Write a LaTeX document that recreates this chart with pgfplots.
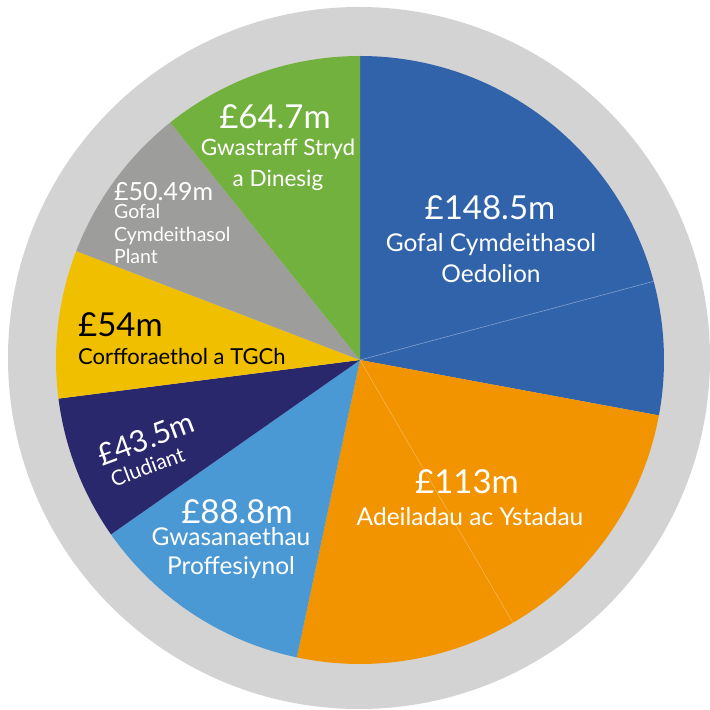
\documentclass[border=0pt]{standalone}
\usepackage{pgfplots}
\pgfplotsset{compat=1.18}
\usepackage{pgfplotstable}
\usepackage{fontspec}
\setmainfont{Lato}
\definecolor{cRing}{RGB}{211,211,211}
\definecolor{cBlue}{RGB}{49,99,171}
\definecolor{cOrange}{RGB}{242,147,0}
\definecolor{cLBlue}{RGB}{74,152,212}
\definecolor{cNavy}{RGB}{42,40,108}
\definecolor{cYellow}{RGB}{240,192,0}
\definecolor{cGrey}{RGB}{157,157,156}
\definecolor{cGreen}{RGB}{115,177,62}
% slice boundaries (degrees, clockwise from top) as drawn in the reference
% value: budget (GBP m)
\pgfplotstableread{
name value start end
Oedolion 148.5 90 -10.5
Ystadau 113 -10.5 -102
Proffesiynol 88.8 -102 -145
Cludiant 43.5 -145 -172.7
TGCh 54 -172.7 -201
Plant 50.49 -201 -231.4
Gwastraff 64.7 -231.4 -270
}\slices
\newcommand\fs[1]{\fontsize{#1}{#1}\selectfont}
\begin{document}
\begin{tikzpicture}
\begin{axis}[
  x=1pt, y=1pt,
  xmin=0, xmax=706, ymin=-710, ymax=0,
  hide axis, clip=false,
]
\path (axis cs:0,0) rectangle (axis cs:706,-710);
\fill[cRing] (axis cs:359,-358) circle[radius=351pt];
\fill[cBlue]   (axis cs:360,-360) -- ++(90:304pt)     arc[start angle=90,     end angle=-10.5,  radius=304pt] -- cycle;
\fill[cOrange] (axis cs:360,-360) -- ++(-10.5:304pt)  arc[start angle=-10.5,  end angle=-102,   radius=304pt] -- cycle;
\fill[cLBlue]  (axis cs:360,-360) -- ++(-102:304pt)   arc[start angle=-102,   end angle=-145,   radius=304pt] -- cycle;
\fill[cNavy]   (axis cs:360,-360) -- ++(-145:304pt)   arc[start angle=-145,   end angle=-172.7, radius=304pt] -- cycle;
\fill[cYellow] (axis cs:360,-360) -- ++(-172.7:304pt) arc[start angle=-172.7, end angle=-201,   radius=304pt] -- cycle;
\fill[cGrey]   (axis cs:360,-360) -- ++(-201:304pt)   arc[start angle=-201,   end angle=-231.4, radius=304pt] -- cycle;
\fill[cGreen]  (axis cs:360,-360) -- ++(-231.4:304pt) arc[start angle=-231.4, end angle=-270,   radius=304pt] -- cycle;
\draw[white, opacity=0.45, line width=0.5pt] (axis cs:360,-360) -- ++(15:304pt);
\draw[white, opacity=0.35, line width=0.5pt] (axis cs:360,-360) -- ++(-59.8:304pt);
% labels
\node[white, font=\fs{33}] at (axis cs:490,-208) {£148.5m};
\node[white, font=\fs{24.5}, align=center, inner sep=0pt] at (axis cs:491,-258) {Gofal Cymdeithasol\\[6pt]Oedolion};
\node[white, font=\fs{33}] at (axis cs:467,-482) {£113m};
\node[white, font=\fs{24.5}] at (axis cs:470,-517) {Adeiladau ac Ystadau};
\node[white, font=\fs{33}] at (axis cs:237,-512) {£88.8m};
\node[white, font=\fs{24.5}, align=center, inner sep=0pt] at (axis cs:231,-553) {Gwasanaethau\\[5pt]Proffesiynol};
\node[white, rotate=20.5, align=left, inner sep=0pt] at (axis cs:150,-450) {{\fs{30}£43.5m}\\[7pt]\hspace*{4pt}{\fs{21}Cludiant}};
\node[black, font=\fs{33}, anchor=west, inner sep=0pt] at (axis cs:78,-325) {£54m};
\node[black, font=\fs{22}, anchor=west, inner sep=0pt] at (axis cs:78,-356) {Corfforaethol a TGCh};
\node[white, font=\fs{25}, anchor=west, inner sep=0pt] at (axis cs:114,-192) {£50.49m};
\node[white, font=\fs{19.5}, anchor=north west, align=left, inner sep=0pt] at (axis cs:114,-204) {Gofal\\[3pt]Cymdeithasol\\[3pt]Plant};
\node[white, font=\fs{33}] at (axis cs:275,-117) {£64.7m};
\node[white, font=\fs{22.5}, align=center, inner sep=0pt] at (axis cs:278,-165) {Gwastraff Stryd\\[8pt]a Dinesig};
\end{axis}
\end{tikzpicture}
\end{document}
